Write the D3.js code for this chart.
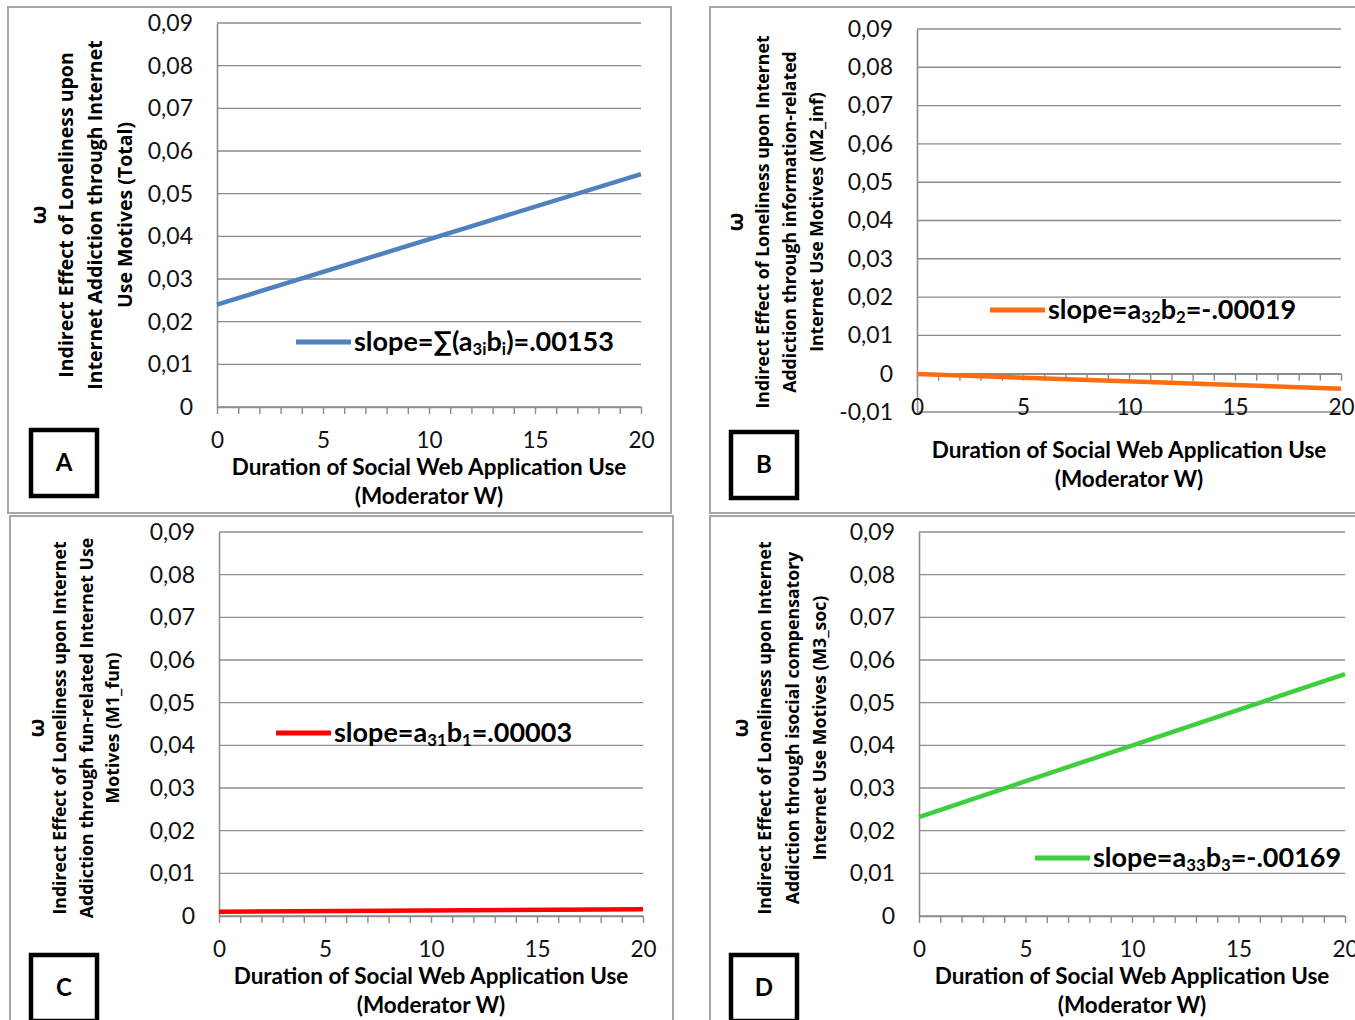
<!DOCTYPE html>
<html><head><meta charset="utf-8">
<script src="https://cdn.jsdelivr.net/npm/d3@7"></script>
<style>
body{margin:0;background:#fff}
svg{display:block}
.tick text{font-family:Lato,"Liberation Sans",sans-serif}
</style></head><body>
<svg id="fig" width="1355" height="1020"></svg>
<script>
// Moderator W: duration of social web application use (both ends of the plotted range)
const moderatorW = [0, 20];
// Conditional indirect effect ω at W = 0 and W = 20
const omegaTotal = [0.0240, 0.0546];
const omegaInf   = [-0.0001, -0.0039];
const omegaFun   = [0.0010, 0.0016];
const omegaSoc   = [0.0232, 0.0567];

const xTickValues = [0, 5, 10, 15, 20];
const yTickValues = [0, 0.01, 0.02, 0.03, 0.04, 0.05, 0.06, 0.07, 0.08, 0.09];
const yTickValuesNeg = [-0.01, 0, 0.01, 0.02, 0.03, 0.04, 0.05, 0.06, 0.07, 0.08, 0.09];

const panelLetters = ["A", "B", "C", "D"];
const seriesColors = ["#4F81BD", "#FF6B0F", "#FF0000", "#3ECF3E"];
// Subscripts are written as _{...}
const legendLabels = [
  "slope=∑(a_{3i}b_{i})=.00153",
  "slope=a_{32}b_{2}=-.00019",
  "slope=a_{31}b_{1}=.00003",
  "slope=a_{33}b_{3}=-.00169"
];
const yTitles = [
  ["ω", "Indirect Effect of Loneliness upon", "Internet Addiction through Internet", "Use Motives (Total)"],
  ["ω", "Indirect Effect of Loneliness upon Internet", "Addiction through information-related", "Internet Use Motives (M2_inf)"],
  ["ω", "Indirect Effect of Loneliness upon Internet", "Addiction through fun-related Internet Use", "Motives (M1_fun)"],
  ["ω", "Indirect Effect of Loneliness upon Internet", "Addiction through isocial compensatory", "Internet Use Motives (M3_soc)"]
];
const xTitle = ["Duration of Social Web Application Use", "(Moderator W)"];

const seriesValues = [omegaTotal, omegaInf, omegaFun, omegaSoc];

// Page layout of the four panels
const layout = [
  {frame:[8,7,663,506],   plot:{l:217,r:641,t:23,b:407},  ticks:yTickValues,    titleX:[38,66,95,125],  titleY:215, titleSize:19.5, box:[31,430], legend:[296,342], xTitleY:[467,496]},
  {frame:[710,7,660,506], plot:{l:917,r:1341,t:29,b:412}, ticks:yTickValuesNeg, titleX:[735,763,790,817], titleY:222, titleSize:17.7, box:[731,432], legend:[990,310], xTitleY:[450,479]},
  {frame:[10,516,663,520],plot:{l:219,r:643,t:532,b:916}, ticks:yTickValues,    titleX:[36,60,87,113],  titleY:728, titleSize:17.7, box:[31,955], legend:[276,733], xTitleY:[976,1005]},
  {frame:[710,516,660,520],plot:{l:919,r:1345,t:532,b:916},ticks:yTickValues,   titleX:[740,765,793,820], titleY:728, titleSize:17.7, box:[731,955], legend:[1035,858], xTitleY:[976,1005]}
];

const svg = d3.select("#fig");
const fmtY = v => v === 0 ? "0" : d3.format(".2f")(v).replace(".", ",").replace("−", "-");
const GRID = "#8C8C8C";
const CAL = "Lato,'Liberation Sans',sans-serif";

// Writes a label with _{...} parts as lowered, smaller tspans
function richText(sel, str) {
  const parts = str.split(/(_\{[^}]*\})/).filter(s => s.length);
  let lowered = false;
  parts.forEach(p => {
    if (p.startsWith("_{")) {
      sel.append("tspan").attr("font-size", "0.62em").attr("dy", lowered ? null : "0.22em").text(p.slice(2, -1));
      lowered = true;
    } else {
      const t = sel.append("tspan").text(p);
      if (lowered) { t.attr("dy", "-0.136em"); lowered = false; }
    }
  });
}

layout.forEach((L, i) => {
  const g = svg.append("g");
  const [fx, fy, fw, fh] = L.frame;
  g.append("rect").attr("x", fx).attr("y", fy).attr("width", fw).attr("height", fh)
    .attr("fill", "none").attr("stroke", "#A6A6A6").attr("stroke-width", 2);

  const ticks = L.ticks;
  const x = d3.scaleLinear().domain([0, 20]).range([L.plot.l, L.plot.r]);
  const y = d3.scaleLinear().domain([d3.min(ticks), 0.09]).range([L.plot.b, L.plot.t]);

  // horizontal gridlines
  g.append("g").selectAll("line").data(ticks).join("line")
    .attr("x1", L.plot.l).attr("x2", L.plot.r)
    .attr("y1", d => y(d)).attr("y2", d => y(d))
    .attr("stroke", GRID).attr("stroke-width", 1.4);

  // y axis with tick labels
  const yAxis = g.append("g").attr("transform", `translate(${L.plot.l},0)`)
    .call(d3.axisLeft(y).tickValues(ticks).tickSize(0).tickPadding(24).tickFormat(fmtY));
  yAxis.select(".domain").attr("stroke", GRID).attr("stroke-width", 1.6);
  yAxis.selectAll(".tick text").attr("font-size", 23).attr("fill", "#111");

  // x axis crossing at ω = 0, minor ticks every unit
  const xAxis = g.append("g").attr("transform", `translate(0,${y(0)})`)
    .call(d3.axisBottom(x).tickValues(d3.range(0, 21)).tickSize(7).tickSizeOuter(0)
      .tickFormat(d => xTickValues.includes(d) ? d : ""));
  xAxis.select(".domain").attr("stroke", GRID).attr("stroke-width", 1.6);
  xAxis.selectAll(".tick line").attr("stroke", GRID).attr("stroke-width", 1.4);
  xAxis.selectAll(".tick text").attr("font-size", 22.5).attr("fill", "#111").attr("y", 25);

  // series line
  const pts = moderatorW.map((w, k) => [w, seriesValues[i][k]]);
  g.append("path").datum(pts)
    .attr("d", d3.line().x(d => x(d[0])).y(d => y(d[1])))
    .attr("fill", "none").attr("stroke", seriesColors[i]).attr("stroke-width", 4.5);

  // legend
  const [lx, ly] = L.legend;
  g.append("line").attr("x1", lx).attr("x2", lx + 55).attr("y1", ly).attr("y2", ly)
    .attr("stroke", seriesColors[i]).attr("stroke-width", 5);
  const lt = g.append("text").attr("x", lx + 58).attr("y", ly + 9)
    .attr("font-family", CAL).attr("font-weight", "bold").attr("font-size", 27).attr("fill", "#000");
  richText(lt, legendLabels[i]);

  // x title
  xTitle.forEach((t, k) => {
    g.append("text").attr("x", (L.plot.l + L.plot.r) / 2).attr("y", L.xTitleY[k]).attr("dy", "0.35em")
      .attr("text-anchor", "middle").attr("font-family", CAL)
      .attr("font-weight", "bold").attr("font-size", 22.5).attr("fill", "#000").text(t);
  });

  // y title (rotated)
  yTitles[i].forEach((t, k) => {
    g.append("text").attr("transform", `translate(${L.titleX[k]},${L.titleY}) rotate(-90)`)
      .attr("dy", "0.35em").attr("text-anchor", "middle")
      .attr("font-family", "'Open Sans','DejaVu Sans',sans-serif")
      .attr("font-weight", "bold").attr("font-size", k === 0 ? 22 : L.titleSize).attr("fill", "#000").text(t);
  });

  // panel letter box
  const [bx, by] = L.box;
  g.append("rect").attr("x", bx).attr("y", by).attr("width", 66).attr("height", 66)
    .attr("fill", "#fff").attr("stroke", "#000").attr("stroke-width", 4.5);
  g.append("text").attr("x", bx + 33).attr("y", by + 33).attr("dy", "0.35em").attr("text-anchor", "middle")
    .attr("font-family", CAL).attr("font-weight", "bold")
    .attr("font-size", 24).attr("fill", "#000").text(panelLetters[i]);
});
</script>
</body></html>
